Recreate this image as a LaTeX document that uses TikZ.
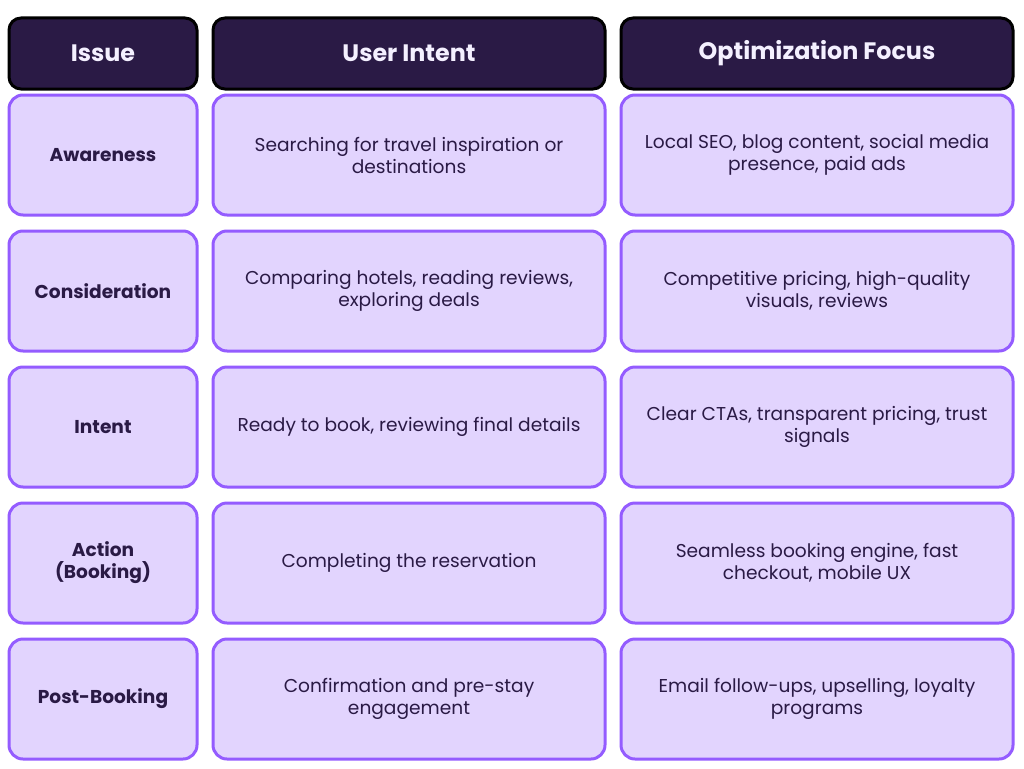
\documentclass[tikz,border=0pt]{standalone}
\usepackage{fontspec}
\setmainfont{Poppins}
\definecolor{headfill}{HTML}{2A1A45}
\definecolor{cellfill}{HTML}{E2D4FE}
\definecolor{cellline}{HTML}{945CFF}
\definecolor{txt}{HTML}{2A1A45}
\definecolor{headtxt}{HTML}{F4F0FF}
\tikzset{
  head/.style={draw=black, fill=headfill, line width=3pt, rounded corners=12pt, text=headtxt, font=\fontsize{23.8}{26}\selectfont\bfseries, align=center, inner sep=0pt},
  cell/.style={draw=cellline, fill=cellfill, line width=3pt, rounded corners=14pt, text=txt, font=\fontsize{18.6}{22}\selectfont, align=center, inner sep=0pt},
  lab/.style={cell, font=\fontsize{18.6}{22}\selectfont\bfseries}
}
\begin{document}
\begin{tikzpicture}[x=1pt,y=-1pt]
\useasboundingbox (0,0) rectangle (1024,768);
% header
\node[head, minimum width=188pt, minimum height=71pt] (h1) at (103,53.5) {Issue};
\node[head, minimum width=392pt, minimum height=71pt] (h2) at (409,53.5) {User Intent};
\node[head, minimum width=392pt, minimum height=71pt] (h3) at (817,53.5) {Optimization Focus};
% rows
\foreach \y/\a/\b/\c/\n in {
  155/Awareness/{Searching for travel inspiration or\\destinations}/{Local SEO, blog content, social media\\presence, paid ads}/1,
  291/Consideration/{Comparing hotels, reading reviews,\\exploring deals}/{Competitive pricing, high-quality\\visuals, reviews}/2,
  427/Intent/{Ready to book, reviewing final details}/{Clear CTAs, transparent pricing, trust\\signals}/3,
  563/{Action\\(Booking)}/{Completing the reservation}/{Seamless booking engine, fast\\checkout, mobile UX}/4,
  699/Post-Booking/{Confirmation and pre-stay\\engagement}/{Email follow-ups, upselling, loyalty\\programs}/5}{
  \node[lab, minimum width=188pt, minimum height=120pt] (a\n) at (103,\y) {\a};
  \node[cell, minimum width=392pt, minimum height=120pt] (b\n) at (409,\y) {\b};
  \node[cell, minimum width=392pt, minimum height=120pt] (c\n) at (817,\y) {\c};
}
\end{tikzpicture}
\end{document}
